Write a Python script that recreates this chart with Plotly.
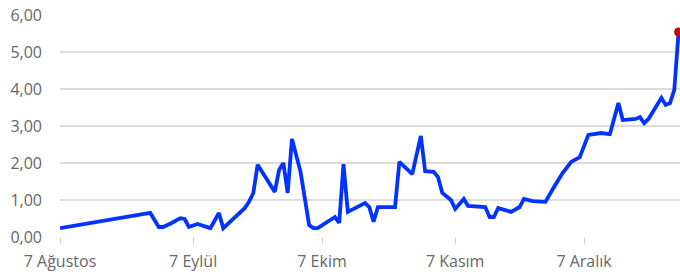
import plotly.graph_objects as go

dates = [
    "2023-08-07", "2023-08-28", "2023-08-30", "2023-08-31", "2023-09-02",
    "2023-09-04", "2023-09-05", "2023-09-06", "2023-09-08", "2023-09-11",
    "2023-09-13", "2023-09-14", "2023-09-19", "2023-09-20", "2023-09-21",
    "2023-09-22", "2023-09-26", "2023-09-27", "2023-09-28", "2023-09-29",
    "2023-09-30", "2023-10-02", "2023-10-04", "2023-10-05", "2023-10-06",
    "2023-10-10", "2023-10-11", "2023-10-12", "2023-10-13", "2023-10-17",
    "2023-10-18", "2023-10-19", "2023-10-20", "2023-10-24", "2023-10-25",
    "2023-10-28", "2023-10-30", "2023-10-31", "2023-11-02", "2023-11-03",
    "2023-11-04", "2023-11-06", "2023-11-07", "2023-11-09", "2023-11-10",
    "2023-11-14", "2023-11-15", "2023-11-16", "2023-11-17", "2023-11-20",
    "2023-11-22", "2023-11-23", "2023-11-25", "2023-11-28", "2023-11-30",
    "2023-12-02", "2023-12-04", "2023-12-06", "2023-12-08", "2023-12-11",
    "2023-12-13", "2023-12-15", "2023-12-16", "2023-12-19", "2023-12-20",
    "2023-12-21", "2023-12-22", "2023-12-25", "2023-12-26", "2023-12-27",
    "2023-12-28", "2023-12-29",
]
values = [
    0.24, 0.65, 0.27, 0.27, 0.38,
    0.51, 0.49, 0.27, 0.35, 0.24,
    0.65, 0.24, 0.78, 0.95, 1.19,
    1.95, 1.22, 1.81, 2.00, 1.19,
    2.65, 1.76, 0.32, 0.24, 0.24,
    0.54, 0.38, 1.97, 0.68, 0.92,
    0.81, 0.41, 0.81, 0.81, 2.03,
    1.70, 2.73, 1.78, 1.76, 1.62,
    1.19, 1.00, 0.76, 1.03, 0.84,
    0.81, 0.54, 0.54, 0.78, 0.68,
    0.81, 1.03, 0.97, 0.95, 1.35,
    1.73, 2.03, 2.16, 2.76, 2.81,
    2.78, 3.62, 3.16, 3.19, 3.24,
    3.08, 3.19, 3.76, 3.57, 3.62,
    3.97, 5.54,
]

x_tick_vals = ["2023-08-07", "2023-09-07", "2023-10-07", "2023-11-07", "2023-12-07"]
x_tick_text = ["7 Ağustos", "7 Eylül", "7 Ekim", "7 Kasım", "7 Aralık"]
y_tick_vals = [0, 1, 2, 3, 4, 5, 6]
y_tick_text = ["0,00", "1,00", "2,00", "3,00", "4,00", "5,00", "6,00"]

fig = go.Figure()
fig.add_trace(go.Scatter(
    x=dates, y=values, mode="lines",
    line=dict(color="#0033ff", width=3.8),
    hoverinfo="skip",
))
fig.add_trace(go.Scatter(
    x=[dates[-1]], y=[values[-1]], mode="markers",
    marker=dict(color="#cc0000", size=9),
    cliponaxis=False, hoverinfo="skip",
))

fig.update_layout(
    width=680, height=280,
    margin=dict(l=60, r=0, t=15, b=43, autoexpand=False),
    paper_bgcolor="white", plot_bgcolor="white",
    showlegend=False,
    font=dict(family="Open Sans", size=16, color="#666666"),
)
fig.update_xaxes(
    type="date",
    range=["2023-08-07", "2023-12-29 08:00"],
    tickvals=x_tick_vals, ticktext=x_tick_text,
    showgrid=False, zeroline=False,
    showline=False,
    ticks="outside", ticklen=6, tickcolor="#d0d0d0", tickwidth=1,
    ticklabelstandoff=4,
    tickfont=dict(size=16, color="#666666"),
    automargin=False,
)
fig.update_yaxes(
    range=[0, 6],
    tickvals=y_tick_vals, ticktext=y_tick_text,
    showgrid=True, gridcolor="#dcdcdc", gridwidth=1.5,
    zeroline=False, showline=False,
    ticks="", ticklabelstandoff=17,
    tickfont=dict(size=16, color="#666666"),
    automargin=False,
)

fig.write_html(
    "out.html",
    config={"displayModeBar": False, "staticPlot": True},
    post_script="document.body.style.margin='0';",
)
